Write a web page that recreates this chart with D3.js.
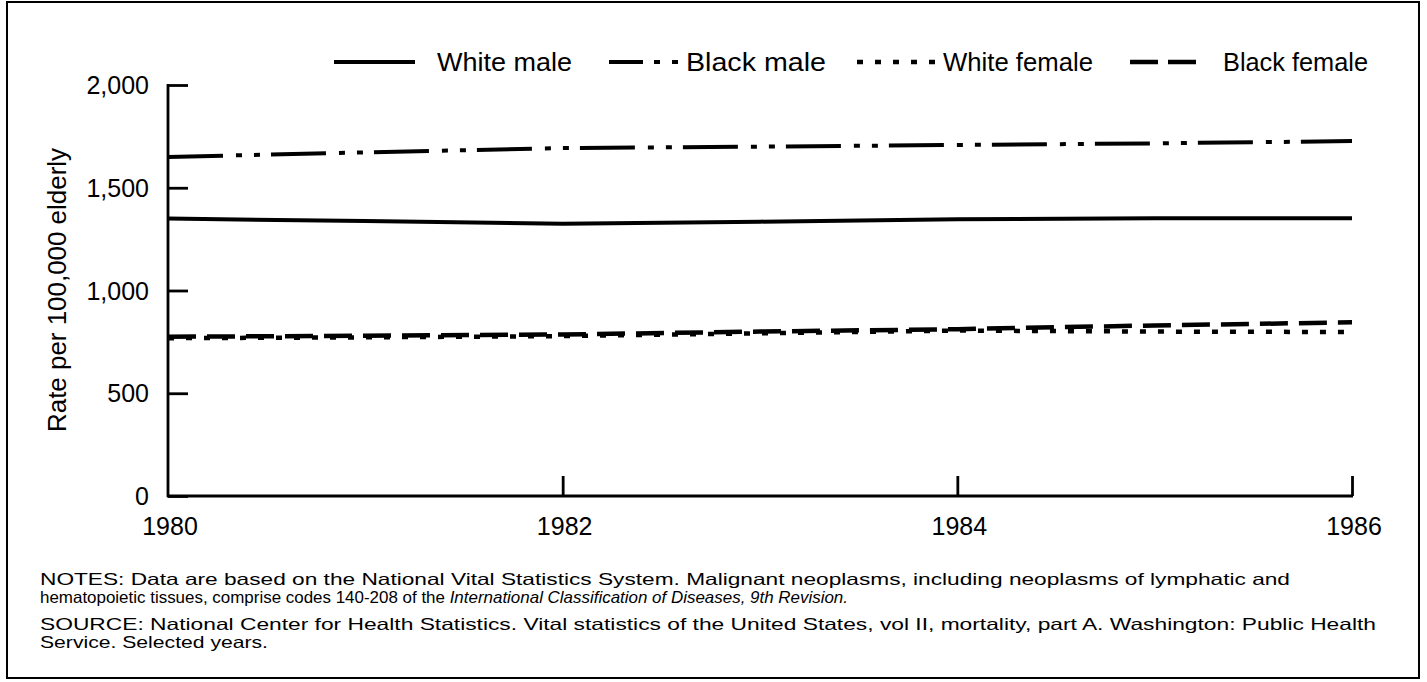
<!DOCTYPE html>
<html><head><meta charset="utf-8">
<script src="https://cdn.jsdelivr.net/npm/d3@7"></script>
<style>body{margin:0;background:#fff}svg{display:block}text{font-family:"Liberation Sans",Arial,sans-serif;fill:#000}</style>
</head><body><svg id="c" width="1427" height="682"></svg>
<script>
const years = [1980, 1981, 1982, 1983, 1984, 1985, 1986];
const whiteMale   = [1350, 1338, 1325, 1335, 1347, 1352, 1352];
const blackMale   = [1650, 1672, 1693, 1700, 1708, 1716, 1727];
const whiteFemale = [768, 772, 778, 792, 805, 800, 798];
const blackFemale = [775, 780, 786, 800, 812, 830, 845];
const yTicks = [0, 500, 1000, 1500, 2000];
const xTicks = [1980, 1982, 1984, 1986];
const seriesNames = ["White male", "Black male", "White female", "Black female"];

const series = [
  {name: seriesNames[0], values: whiteMale, dash: null, w: 4},
  {name: seriesNames[1], values: blackMale, dash: "55,13,6,12,6,11", w: 4},
  {name: seriesNames[2], values: whiteFemale, dash: "6,12", w: 4.5},
  {name: seriesNames[3], values: blackFemale, dash: "28,11", w: 4.5}
];

const svg = d3.select("#c");
svg.append("rect").attr("x",7).attr("y",2).attr("width",1412).attr("height",676)
  .attr("fill","none").attr("stroke","#000").attr("stroke-width",2);

const x = d3.scaleLinear().domain([1980,1986]).range([168,1352]);
const y = d3.scaleLinear().domain([0,2000]).range([496,85]);

// axes
const yAx = svg.append("g").attr("transform","translate(168,0)")
  .call(d3.axisRight(y).tickValues(yTicks).tickSize(20).tickFormat(""));
yAx.select(".domain").attr("d","M0,84V497");
const xAx = svg.append("g").attr("transform","translate(0,496)")
  .call(d3.axisTop(x).tickValues(xTicks).tickSize(20).tickFormat(""));
xAx.select(".domain").attr("d","M167,0H1353");
svg.selectAll(".domain, .tick line").attr("stroke","#000").attr("stroke-width",2.8);
xAx.selectAll(".tick").filter(d=>d===1980).remove();

// tick labels
svg.append("g").selectAll("text").data(yTicks).join("text")
  .attr("x",149).attr("y",d=>y(d)+9).attr("text-anchor","end")
  .attr("font-size",25).text(d=>d3.format(",")(d));
svg.append("g").selectAll("text").data(xTicks).join("text")
  .attr("x",d=>x(d)+2).attr("y",535).attr("text-anchor","middle")
  .attr("font-size",25).text(d=>d);

svg.append("text").attr("transform","translate(66,290) rotate(-90)")
  .attr("text-anchor","middle").attr("font-size",25).attr("textLength",284)
  .attr("lengthAdjust","spacingAndGlyphs").text("Rate per 100,000 elderly");

// lines
const line = d3.line().x((d,i)=>x(years[i])).y(d=>y(d));
svg.append("g").selectAll("path").data(series).join("path")
  .attr("d",d=>line(d.values)).attr("fill","none").attr("stroke","#000")
  .attr("stroke-width",d=>d.w).attr("stroke-dasharray",d=>d.dash);

// legend
const leg = [
  {sx:334, ex:415, tx:437, tw:135, dash:null},
  {sx:609, ex:680, tx:686, tw:140, dash:"34,11,6,12,6,12"},
  {sx:857, ex:936, tx:943, tw:150, dash:"6,12"},
  {sx:1130, ex:1196, tx:1223, tw:145, dash:"28,10,28,10"}
];
const lg = svg.append("g");
series.forEach((s,i)=>{
  const L = leg[i];
  lg.append("line").attr("x1",L.sx).attr("x2",L.ex).attr("y1",62).attr("y2",62)
    .attr("stroke","#000").attr("stroke-width",s.w).attr("stroke-dasharray",L.dash);
  lg.append("text").attr("x",L.tx).attr("y",71).attr("font-size",26)
    .attr("textLength",L.tw).attr("lengthAdjust","spacingAndGlyphs").text(s.name);
});

// notes
const notes = svg.append("g").attr("font-size",16.5);
notes.append("text").attr("x",40).attr("y",585).attr("textLength",1250).attr("lengthAdjust","spacingAndGlyphs")
  .text("NOTES:  Data are based on the National Vital Statistics System.  Malignant neoplasms, including neoplasms of lymphatic and");
const t2 = notes.append("text").attr("x",40).attr("y",603).attr("textLength",808).attr("lengthAdjust","spacingAndGlyphs");
t2.append("tspan").text("hematopoietic tissues, comprise codes 140-208 of the ");
t2.append("tspan").attr("font-style","italic").text("International Classification of Diseases, 9th Revision.");
notes.append("text").attr("x",40).attr("y",630).attr("textLength",1336).attr("lengthAdjust","spacingAndGlyphs")
  .text("SOURCE:  National Center for Health Statistics.  Vital statistics of the United States, vol II, mortality, part A.  Washington:  Public Health");
notes.append("text").attr("x",40).attr("y",648).attr("textLength",228).attr("lengthAdjust","spacingAndGlyphs")
  .text("Service.  Selected years.");
</script></body></html>
